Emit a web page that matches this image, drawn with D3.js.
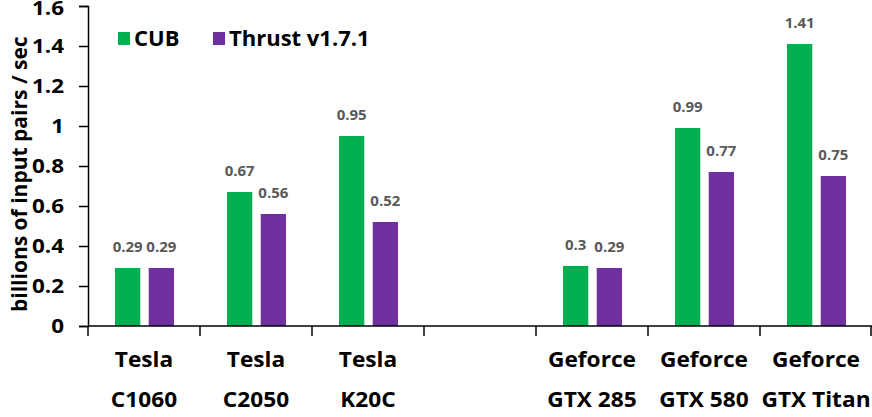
<!DOCTYPE html>
<html>
<head>
<meta charset="utf-8">
<script src="https://d3js.org/d3.v7.min.js"></script>
<style>
  body { margin: 0; background: #fff; }
  text { font-family: "Open Sans", sans-serif; font-weight: bold; }
</style>
</head>
<body>
<div id="chart"></div>
<script>
// slots along the x axis, one empty slot between the Tesla and Geforce groups
var slots     = ["c1060", "c2050", "k20c", "gap", "gtx285", "gtx580", "titan"];
var labelTop  = ["Tesla", "Tesla", "Tesla", "", "Geforce", "Geforce", "Geforce"];
var labelBot  = ["C1060", "C2050", "K20C", "", "GTX 285", "GTX 580", "GTX Titan"];
var cub       = [0.29, 0.67, 0.95, null, 0.3, 0.99, 1.41];
var thrust    = [0.29, 0.56, 0.52, null, 0.29, 0.77, 0.75];
var seriesNames = ["CUB", "Thrust v1.7.1"];
var yTicks    = [0, 0.2, 0.4, 0.6, 0.8, 1, 1.2, 1.4, 1.6];

var colors = {"CUB": "#00b050", "Thrust v1.7.1": "#7030a0"};

var W = 872, H = 417;
var margin = {top: 6, right: 0, bottom: 91, left: 88};
var width = W - margin.left - margin.right,
    height = H - margin.top - margin.bottom;

// the source image is a bit wide, so text gets stretched sideways
function stretch(sel, k) {
  sel.each(function() {
    var len = this.getComputedTextLength();
    if (len > 0) {
      d3.select(this).attr("textLength", len * k).attr("lengthAdjust", "spacingAndGlyphs");
    }
  });
}

var svg = d3.select("#chart").append("svg")
    .attr("width", W)
    .attr("height", H);
var g = svg.append("g")
    .attr("transform", "translate(" + margin.left + "," + margin.top + ")");

var x0 = d3.scaleBand().domain(slots).range([0, width]);
var x1 = d3.scaleBand().domain(seriesNames).range([27, 86]).paddingInner(0.25);
var y = d3.scaleLinear().domain([0, 1.6]).range([height, 0]);

var rows = slots.map(function(s, i) {
  return {slot: s, vals: [{name: "CUB", v: cub[i]}, {name: "Thrust v1.7.1", v: thrust[i]}]};
});

// bars
var groups = g.selectAll(".grp").data(rows).enter().append("g")
    .attr("transform", function(d) { return "translate(" + x0(d.slot) + ",0)"; });

groups.selectAll("rect")
    .data(function(d) { return d.vals.filter(function(e) { return e.v != null; }); })
    .enter().append("rect")
    .attr("x", function(d) { return x1(d.name); })
    .attr("width", x1.bandwidth())
    .attr("y", function(d) { return y(d.v); })
    .attr("height", function(d) { return height - y(d.v); })
    .attr("fill", function(d) { return colors[d.name]; });

groups.selectAll(".val")
    .data(function(d) { return d.vals.filter(function(e) { return e.v != null; }); })
    .enter().append("text")
    .attr("class", "val")
    .attr("x", function(d) { return x1(d.name) + x1.bandwidth() / 2; })
    .attr("y", function(d) { return y(d.v) - 16; })
    .attr("text-anchor", "middle")
    .attr("font-size", 15)
    .attr("fill", "#595959")
    .text(function(d) { return d.v; });

// y axis
var yAxis = g.append("g")
    .call(d3.axisLeft(y).tickValues(yTicks).tickSize(9).tickPadding(15)
      .tickFormat(function(d) { return String(d); }));
yAxis.select(".domain").attr("stroke", "#000").attr("stroke-width", 1.5);
yAxis.selectAll(".tick line").attr("stroke", "#000").attr("stroke-width", 1.5);
yAxis.selectAll(".tick text")
    .attr("font-size", 20)
    .attr("font-family", "Open Sans")
    .attr("font-weight", "bold")
    .attr("fill", "#000")
    .call(stretch, 1.12);
// top label sits right at the edge, nudge it in a little
yAxis.selectAll(".tick text").filter(function(d) { return d === 1.6; })
    .attr("dy", "0.44em");

// x axis line and boundary ticks
g.append("line")
    .attr("x1", 0).attr("x2", width)
    .attr("y1", height).attr("y2", height)
    .attr("stroke", "#000").attr("stroke-width", 1.5);

var bounds = slots.map(function(s) { return x0(s); }).concat([x0.range()[1] - 1]);
g.selectAll(".xb").data(bounds).enter().append("line")
    .attr("x1", function(d) { return d; }).attr("x2", function(d) { return d; })
    .attr("y1", height).attr("y2", height + 10)
    .attr("stroke", "#000").attr("stroke-width", 1.5);

var cats = g.selectAll(".cat").data(slots).enter().append("g")
    .attr("transform", function(d) { return "translate(" + (x0(d) + x0.bandwidth() / 2) + "," + height + ")"; });
cats.append("text")
    .attr("y", 41)
    .attr("text-anchor", "middle")
    .attr("font-size", 21)
    .attr("fill", "#000")
    .text(function(d, i) { return labelTop[i]; })
    .call(stretch, 1.08);
cats.append("text")
    .attr("y", 81)
    .attr("text-anchor", "middle")
    .attr("font-size", 21)
    .attr("fill", "#000")
    .text(function(d, i) { return labelBot[i]; })
    .call(stretch, 1.08);

// y axis title
svg.append("text")
    .attr("transform", "translate(27,312) rotate(-90)")
    .attr("text-anchor", "start")
    .attr("font-size", 21)
    .attr("fill", "#000")
    .text("billions of input pairs / sec");

// legend
var legendX = [118, 213];
var legend = svg.selectAll(".leg").data(seriesNames).enter().append("g")
    .attr("transform", function(d, i) { return "translate(" + legendX[i] + ",32)"; });
legend.append("rect")
    .attr("width", 12).attr("height", 13)
    .attr("fill", function(d) { return colors[d]; });
legend.append("text")
    .attr("x", 16).attr("y", 14)
    .attr("font-size", 22)
    .attr("fill", "#000")
    .text(function(d) { return d; });
</script>
</body>
</html>
